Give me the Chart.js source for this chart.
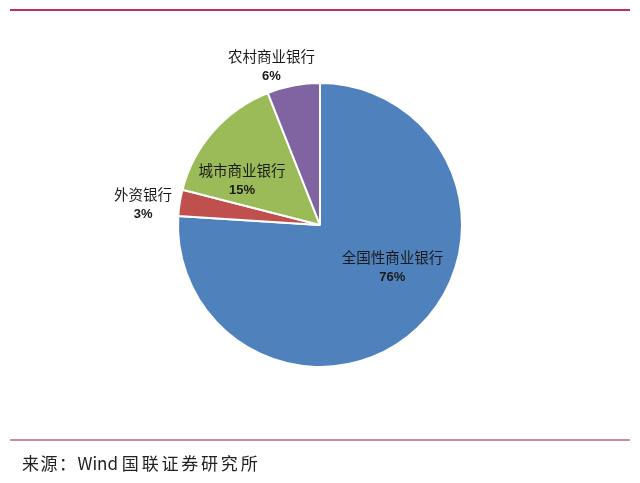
<!DOCTYPE html>
<html>
<head>
<meta charset="utf-8">
<script src="https://cdn.jsdelivr.net/npm/chart.js@4/dist/chart.umd.min.js"></script>
<style>
  body { margin: 0; background: #fff; }
  #wrap { position: relative; width: 640px; height: 483px; }
  #topLine { position: absolute; left: 10px; top: 9px; width: 620px; height: 2px; background: #b8325a; }
  #bottomLine { position: absolute; left: 10px; top: 439px; width: 620px; height: 2px; background: #cf8aa0; }
  #source { position: absolute; left: 22px; top: 450px; font: 17px "Noto Sans CJK SC", sans-serif; color: #222; letter-spacing: 1.5px; }
  #source .en { letter-spacing: 0; }
  #source .cn { letter-spacing: 2.8px; }
  #box { position: absolute; left: 0; top: 0; width: 640px; height: 483px; }
</style>
</head>
<body>
<div id="wrap">
  <div id="topLine"></div>
  <div id="box"><canvas id="myChart"></canvas></div>
  <div id="bottomLine"></div>
  <div id="source">来源：<span class="en">Wind </span><span class="cn">国联证券研究所</span></div>
</div>
<script>
// data
var categories = ["全国性商业银行", "外资银行", "城市商业银行", "农村商业银行"];
var shares = [76, 3, 15, 6];
var colors = ["#4f81bd", "#c0504d", "#9bbb59", "#8064a2"];

// label placement: radius factor and small nudges per slice
var labelRadius = [0.58, 1.24, 0.62, 1.15];
var labelNudge = [[16, -18], [-3, 7], [-12, 14], [-18, 2]];

var labelPlugin = {
    id: "sliceLabels",
    afterDatasetsDraw: function (chart) {
        var ctx = chart.ctx;
        var meta = chart.getDatasetMeta(0);
        meta.data.forEach(function (arc, i) {
            var mid = (arc.startAngle + arc.endAngle) / 2;
            var r = arc.outerRadius * labelRadius[i];
            var x = arc.x + Math.cos(mid) * r + labelNudge[i][0];
            var y = arc.y + Math.sin(mid) * r + labelNudge[i][1];
            ctx.save();
            ctx.fillStyle = "#1a1a1a";
            ctx.textAlign = "center";
            ctx.textBaseline = "middle";
            ctx.font = "14.5px 'Noto Sans CJK SC', sans-serif";
            ctx.fillText(categories[i], x, y - 10);
            ctx.font = "bold 13px 'Liberation Sans', sans-serif";
            ctx.fillText(shares[i] + "%", x, y + 10);
            ctx.restore();
        });
    }
};

var config = {
    type: "pie",
    data: {
        labels: categories,
        datasets: [{
            data: shares,
            backgroundColor: colors,
            borderColor: "#ffffff",
            borderWidth: 2
        }]
    },
    options: {
        responsive: true,
        maintainAspectRatio: false,
        animation: false,
        layout: { padding: { top: 82, bottom: 115, left: 0, right: 0 } },
        plugins: {
            legend: { display: false },
            tooltip: { enabled: false }
        }
    },
    plugins: [labelPlugin]
};

var myChart = new Chart(document.getElementById("myChart"), config);
</script>
</body>
</html>
